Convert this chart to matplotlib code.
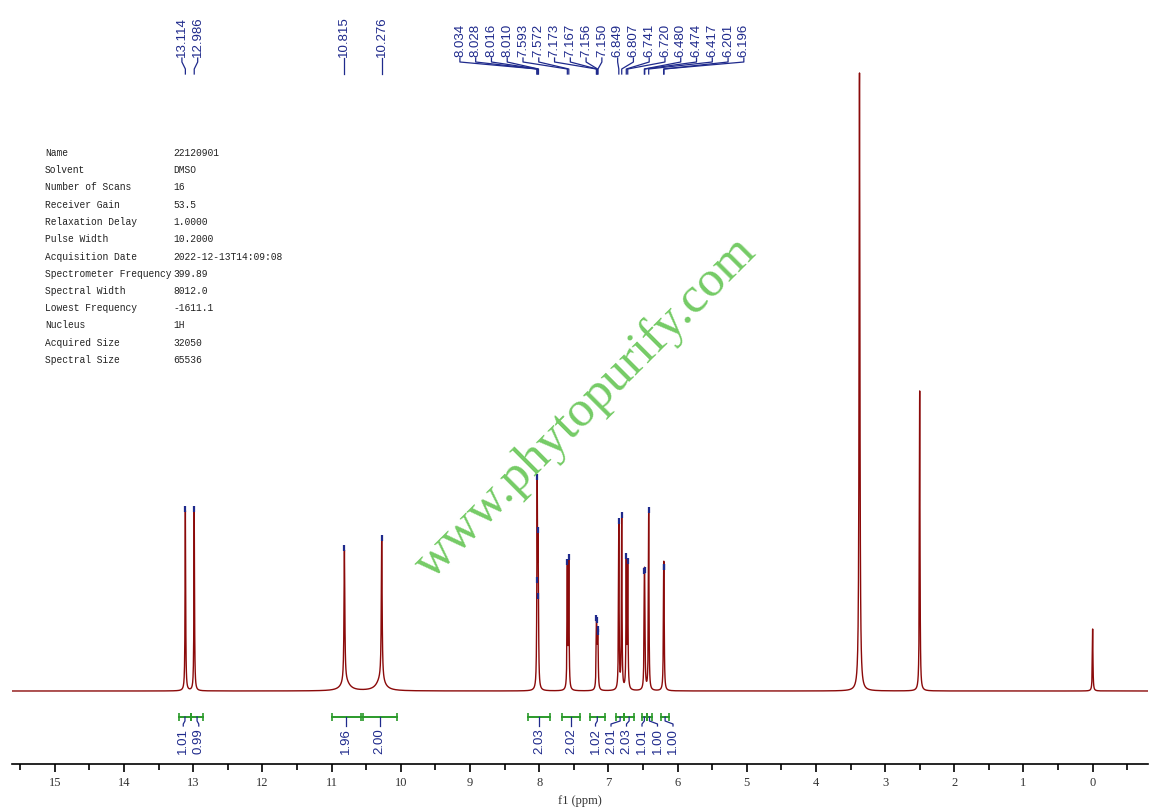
import numpy as np
import matplotlib
matplotlib.use("Agg")
import matplotlib.pyplot as plt
from matplotlib.ticker import MultipleLocator

# labelled peaks (ppm) and their heights (pixels above baseline)
shifts = [13.114, 12.986, 10.815, 10.276,
          8.034, 8.028, 8.016, 8.010, 7.593, 7.572,
          7.173, 7.167, 7.156, 7.150, 6.849, 6.807,
          6.741, 6.720, 6.480, 6.474, 6.417, 6.201, 6.196]
heights = [180, 180, 132, 140,
           25, 182, 118, 30, 120, 125,
           50, 40, 33, 38, 165, 170,
           125, 120, 83, 83, 178, 81, 81]
widths = [0.005, 0.005, 0.007, 0.007,
          0.005, 0.005, 0.005, 0.005, 0.005, 0.005,
          0.005, 0.005, 0.005, 0.005, 0.005, 0.005,
          0.005, 0.005, 0.005, 0.005, 0.005, 0.005, 0.005]
shift_labels = ["13.114", "12.986", "10.815", "10.276",
                "8.034", "8.028", "8.016", "8.010", "7.593", "7.572",
                "7.173", "7.167", "7.156", "7.150", "6.849", "6.807",
                "6.741", "6.720", "6.480", "6.474", "6.417", "6.201", "6.196"]

# unlabelled lines and low broad humps (exchangeable NH/OH, water, DMSO, TMS)
extra_pos = [10.80, 10.29, 3.37, 2.50, 0.0]
extra_amp = [9, 11, 618, 300, 62]
extra_w = [0.07, 0.07, 0.007, 0.005, 0.005]

# integrals
integ_start = [13.21, 13.03, 11.00, 10.55, 8.16, 7.67, 7.27, 6.89, 6.77, 6.52, 6.44, 6.24]
integ_end = [13.03, 12.86, 10.58, 10.06, 7.85, 7.41, 7.05, 6.77, 6.63, 6.44, 6.37, 6.12]
integ_vals = ["1.01", "0.99", "1.96", "2.00", "2.03", "2.02", "1.02", "2.01", "2.03", "1.01", "1.00", "1.00"]

info_keys = ["Name", "Solvent", "Number of Scans", "Receiver Gain", "Relaxation Delay",
             "Pulse Width", "Acquisition Date", "Spectrometer Frequency", "Spectral Width",
             "Lowest Frequency", "Nucleus", "Acquired Size", "Spectral Size"]
info_vals = ["22120901", "DMSO", "16", "53.5", "1.0000", "10.2000", "2022-12-13T14:09:08",
             "399.89", "8012.0", "-1611.1", "1H", "32050", "65536"]

NAVY = "#1f2a8c"
GREEN = "#2a9a2a"
RED = "#8b0a0a"


def lorentz(x, x0, a, w):
    return a / (1 + ((x - x0) / w) ** 2)


def spread(centers, gap):
    # push neighbouring labels apart so they are at least `gap` ppm apart
    groups = [[c] for c in centers]

    def place(g):
        m = np.mean(g)
        n = len(g)
        return [m + ((n - 1) / 2 - i) * gap for i in range(n)]

    changed = True
    while changed:
        changed = False
        for i in range(len(groups) - 1):
            if place(groups[i])[-1] - place(groups[i + 1])[0] < gap:
                groups[i] = groups[i] + groups.pop(i + 1)
                changed = True
                break
    return [p for g in groups for p in place(g)]


x = np.arange(-0.8, 15.62, 0.0005)
y = np.zeros_like(x)
for p, h, w in zip(shifts, heights, widths):
    y += lorentz(x, p, h, w)
for p, h, w in zip(extra_pos, extra_amp, extra_w):
    y += lorentz(x, p, h, w)

fig = plt.figure(figsize=(11.55, 8.12), dpi=100)
ax = fig.add_axes([12 / 1155, 1 - 765 / 812, 1136 / 1155, 765 / 812])
ax.plot(x, y, color=RED, lw=1.0)
ax.set_xlim(15.62, -0.8)
ax.set_ylim(-73, 692)

# peak picking marks and labels on top
tops = np.interp(shifts, x, y)
ax.vlines(shifts, tops - 1, tops + 5, color=NAVY, lw=1.6)
lab_x = spread(shifts, 0.228)
for s, lx, t in zip(shifts, lab_x, shift_labels):
    ax.plot([lx, lx, s, s], [633, 629, 622, 617], color=NAVY, lw=0.9, clip_on=False)
    ax.text(lx, 635, t, rotation=90, ha="center", va="bottom", fontsize=9.5,
            family="Liberation Sans", color=NAVY)

# integrals under the baseline
for a, b in zip(integ_start, integ_end):
    ax.plot([a, b], [-26, -26], color=GREEN, lw=1.4)
    ax.vlines([a, b], -30, -22, color=GREEN, lw=1.2)
mids = [(a + b) / 2 for a, b in zip(integ_start, integ_end)]
int_x = spread(mids, 0.224)
for m, lx, t in zip(mids, int_x, integ_vals):
    ax.plot([m, m, lx, lx], [-26, -30, -33, -35], color=NAVY, lw=0.9)
    ax.text(lx, -36, t, rotation=90, ha="center", va="top", fontsize=9.5,
            family="Liberation Sans", color=NAVY)

# axis look
for side in ["left", "right", "top"]:
    ax.spines[side].set_visible(False)
ax.spines["bottom"].set_linewidth(1.2)
ax.set_yticks([])
ax.xaxis.set_major_locator(MultipleLocator(1))
ax.xaxis.set_minor_locator(MultipleLocator(0.5))
ax.tick_params(axis="x", which="major", direction="out", length=6, width=1.2,
               labelsize=9, labelcolor="#333333", pad=3)
ax.tick_params(axis="x", which="minor", direction="out", length=4, width=1.2)
for lbl in ax.get_xticklabels():
    lbl.set_family("Liberation Serif")
ax.set_xlabel("f1 (ppm)", fontsize=9, family="Liberation Serif", color="#333333", labelpad=4)

# acquisition parameters
for i, (k, v) in enumerate(zip(info_keys, info_vals)):
    yy = 1 - (153 + i * 17.25) / 812
    fig.text(45 / 1155, yy, k, fontsize=6.9, family="Liberation Mono", va="center", color="#222222")
    fig.text(173 / 1155, yy, v, fontsize=6.9, family="Liberation Mono", va="center", color="#222222")

# watermark
fig.text(586 / 1155, 1 - 408 / 812, "www.phytopurify.com", rotation=45, fontsize=37,
         family="Liberation Serif", color="#5cc24a", alpha=0.85,
         ha="center", va="center", rotation_mode="anchor")

fig.savefig("out.png", dpi=100)
